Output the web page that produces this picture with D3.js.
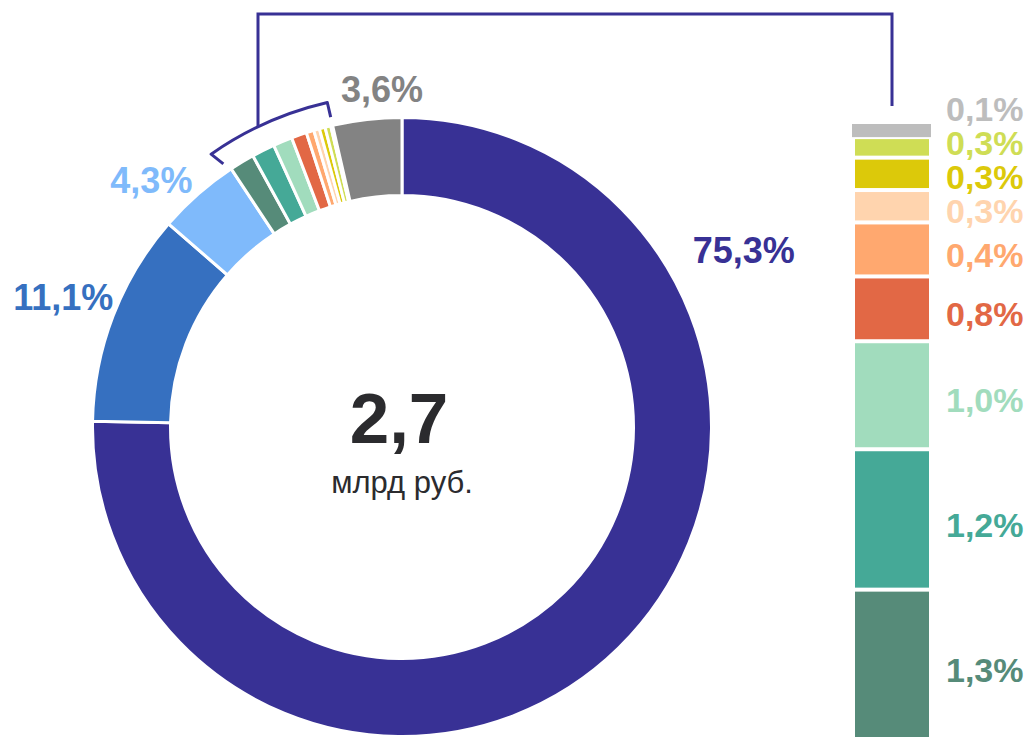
<!DOCTYPE html>
<html>
<head>
<meta charset="utf-8">
<script src="https://cdn.jsdelivr.net/npm/d3@7"></script>
<style>
  body { margin: 0; background: #fff; }
  svg { display: block; font-family: "Liberation Sans", Arial, sans-serif; }
</style>
</head>
<body>
<div id="chart"></div>
<script>
// donut segments, clockwise from 12 o'clock
var segLabels = ["75,3%", "11,1%", "4,3%", "1,3%", "1,2%", "1,0%", "0,8%", "0,4%", "0,3%", "0,3%", "0,3%", "0,1%", "3,6%"];
var segValues = [75.3, 11.1, 4.3, 1.3, 1.2, 1.0, 0.8, 0.4, 0.3, 0.3, 0.3, 0.1, 3.6];
var segColors = ["#383195", "#3670c0", "#7fbafb", "#568b79", "#45a997", "#a1dcbd",
                 "#e26845", "#ffa86f", "#ffd4ae", "#dcc90a", "#cfdd55", "#bdbdbd", "#838383"];

// detail stack (top to bottom) = small segments 11..3 of the donut
var detailIdx = [11, 10, 9, 8, 7, 6, 5, 4, 3];
// visual heights of the stacked blocks as drawn in the picture
var detailWeights = [0.14, 0.19, 0.3, 0.3, 0.5, 0.6, 1.0, 1.3, 1.4];

var totalValue = "2,7";
var totalUnit = "млрд руб.";

var svgWidth = 1033;
var svgHeight = 737;

var cx = 402, cy = 427;
var outerR = 308, innerR = 233;

var svg = d3.select("#chart")
  .append("svg")
  .attr("width", svgWidth)
  .attr("height", svgHeight);

var donut = svg.append("g")
  .attr("transform", `translate(${cx}, ${cy})`);

var pie = d3.pie().sort(null).value(d => d);
var arcs = pie(segValues);

var arc = d3.arc()
  .innerRadius(innerR - 1.5)
  .outerRadius(outerR + 1.5);

donut.selectAll("path.seg")
  .data(arcs)
  .enter()
  .append("path")
  .attr("class", "seg")
  .attr("d", arc)
  .attr("fill", (d, i) => segColors[i])
  .attr("stroke", "#fff")
  .attr("stroke-width", 3);

// ring labels: [segment index, angle in degrees (null = centroid), radius]
var ringLabels = [[0, 62.6, 385], [1, null, 363], [2, 314.6, 352], [12, 356.6, 339]];
var deg = Math.PI / 180;

function labelAngle(d) {
  return d[1] === null ? (arcs[d[0]].startAngle + arcs[d[0]].endAngle) / 2 : d[1] * deg;
}

donut.selectAll("text.ring")
  .data(ringLabels)
  .enter()
  .append("text")
  .attr("class", "ring")
  .attr("x", d => Math.sin(labelAngle(d)) * d[2])
  .attr("y", d => -Math.cos(labelAngle(d)) * d[2])
  .attr("dy", "0.36em")
  .attr("text-anchor", "middle")
  .attr("font-size", 36)
  .attr("font-weight", "bold")
  .attr("fill", d => segColors[d[0]])
  .text(d => segLabels[d[0]]);

// centre text
donut.append("text")
  .attr("x", -3)
  .attr("y", 16)
  .attr("text-anchor", "middle")
  .attr("font-size", 71)
  .attr("font-weight", "bold")
  .attr("fill", "#2b2b2e")
  .text(totalValue);

donut.append("text")
  .attr("x", 0)
  .attr("y", 66)
  .attr("text-anchor", "middle")
  .attr("font-size", 31)
  .attr("fill", "#2b2b2e")
  .text(totalUnit);

// bracket over the small segments
var grpStart = arcs[3].startAngle - 1.5 * deg;
var grpEnd = arcs[11].endAngle;
var brR = 333, tickR = 318;
var p = d3.path();
p.moveTo(Math.sin(grpStart + 0.8 * deg) * tickR, -Math.cos(grpStart + 0.8 * deg) * tickR);
p.lineTo(Math.sin(grpStart) * brR, -Math.cos(grpStart) * brR);
p.arc(0, 0, brR, grpStart - Math.PI / 2, grpEnd - Math.PI / 2, false);
p.lineTo(Math.sin(grpEnd) * tickR, -Math.cos(grpEnd) * tickR);

donut.append("path")
  .attr("d", p.toString())
  .attr("fill", "none")
  .attr("stroke", "#383195")
  .attr("stroke-width", 3)
  .attr("stroke-linejoin", "round");

// detail stack
var stackX = 855, stackW = 74, stackTop = 124, gap = 4;
var pxPerUnit = 108;

var cum = 0;
var blocks = detailWeights.map(function(w, k) {
  var b = { idx: detailIdx[k], y0: cum, y1: cum + w };
  cum += w;
  return b;
});

var yStack = d3.scaleLinear()
  .domain([0, 1])
  .range([stackTop, stackTop + pxPerUnit]);

// connector line from bracket to the stack
var joinX = 258;
var joinY = cy - Math.sqrt(brR * brR - (joinX - cx) * (joinX - cx));
var topY = 14;
svg.append("path")
  .attr("d", `M${joinX},${joinY}V${topY}H${stackX + stackW / 2}V${stackTop - 18}`)
  .attr("fill", "none")
  .attr("stroke", "#383195")
  .attr("stroke-width", 3);

svg.selectAll("rect.blk")
  .data(blocks)
  .enter()
  .append("rect")
  .attr("class", "blk")
  .attr("x", (d, k) => k === 0 ? stackX - 3 : stackX)
  .attr("width", (d, k) => k === 0 ? stackW + 5 : stackW)
  .attr("y", d => yStack(d.y0))
  .attr("height", (d, k) => yStack(d.y1) - yStack(d.y0) - (k === 0 ? 2 : gap))
  .attr("fill", d => segColors[d.idx]);

// stack labels: centred on blocks, pushed up when they would collide
var labelY = blocks.map(d => (yStack(d.y0) + yStack(d.y1) - gap) / 2);
for (var k = labelY.length - 2; k >= 0; k--) {
  labelY[k] = Math.min(labelY[k], labelY[k + 1] - 34);
}

svg.selectAll("text.blk")
  .data(blocks)
  .enter()
  .append("text")
  .attr("class", "blk")
  .attr("x", 946)
  .attr("y", (d, k) => labelY[k] + 5)
  .attr("dy", "0.36em")
  .attr("font-size", 34)
  .attr("font-weight", "bold")
  .attr("fill", d => segColors[d.idx])
  .text(d => segLabels[d.idx]);
</script>
</body>
</html>
